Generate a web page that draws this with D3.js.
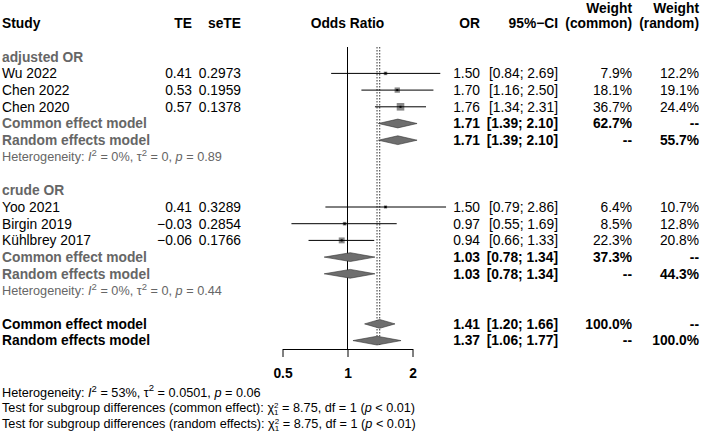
<!DOCTYPE html>
<html><head><meta charset="utf-8">
<script src="https://cdn.jsdelivr.net/npm/d3@7"></script>
<style>body{margin:0;background:#fff}svg{display:block}text{font-family:"Liberation Sans",Arial,Helvetica,sans-serif}</style>
</head><body><svg id="c" width="702" height="434"></svg>
<script>
// ---- data ----
const groups = ["adjusted OR", "crude OR"];
const studyNames = ["Wu 2022", "Chen 2022", "Chen 2020", "Yoo 2021", "Birgin 2019", "Kühlbrey 2017"];
const studyGroup = [0, 0, 0, 1, 1, 1];
const studyTE = ["0.41", "0.53", "0.57", "0.41", "\u22120.03", "\u22120.06"];
const studySeTE = ["0.2973", "0.1959", "0.1378", "0.3289", "0.2854", "0.1766"];
const studyOR = [1.50, 1.70, 1.76, 1.50, 0.97, 0.94];
const studyLower = [0.84, 1.16, 1.34, 0.79, 0.55, 0.66];
const studyUpper = [2.69, 2.50, 2.31, 2.86, 1.69, 1.33];
const studyWCommon = [7.9, 18.1, 36.7, 6.4, 8.5, 22.3];
const studyWRandom = [12.2, 19.1, 24.4, 10.7, 12.8, 20.8];

const subCommonOR = [1.71, 1.03], subCommonLo = [1.39, 0.78], subCommonHi = [2.10, 1.34];
const subRandomOR = [1.71, 1.03], subRandomLo = [1.39, 0.78], subRandomHi = [2.10, 1.34];
const subWCommon = ["62.7%", "37.3%"], subWRandom = ["55.7%", "44.3%"];
const subHet = [["0%", "0", "0.89"], ["0%", "0", "0.44"]];

const overallCommon = [1.41, 1.20, 1.66], overallRandom = [1.37, 1.06, 1.77];
const overallHet = ["53%", "0.0501", "0.06"];
const testQ = "8.75", testDf = "1", testP = "< 0.01";
const axisTicks = [0.5, 1, 2];

// ---- layout ----
const FS = 13.8, FSS = 12.7, FSUP = 9.5;
const svg = d3.select("#c");
const row = d3.scaleLinear().domain([0, 19]).range([23.3, 340.6]);
const x = d3.scaleLog().domain([0.5, 2]).range([282.5, 412.5]);
const colTE = 192, colSe = 241, colOR = 480, colCI = 558, colWC = 632, colWR = 699;
const GREY = "#666";
const f2 = d3.format(".2f"), f1 = d3.format(".1f");
const ci = (l, u) => "[" + f2(l) + "; " + f2(u) + "]";

function txt(xp, yp, s, o = {}) {
  return svg.append("text").attr("x", xp).attr("y", yp).attr("dy", "0.35em")
    .attr("text-anchor", o.anchor || "start")
    .attr("font-size", o.size || FS)
    .attr("font-weight", o.bold ? "bold" : "normal")
    .attr("fill", o.color || "#000").text(s);
}

// headers
txt(2, row(0), "Study", {bold: true});
txt(colTE, row(0), "TE", {bold: true, anchor: "end"});
txt(colSe, row(0), "seTE", {bold: true, anchor: "end"});
txt(x(1), row(0), "Odds Ratio", {bold: true, anchor: "middle"});
txt(colOR, row(0), "OR", {bold: true, anchor: "end"});
txt(colCI, row(0), "95%\u2212CI", {bold: true, anchor: "end"});
txt(colWC, row(0) - 15, "Weight", {bold: true, anchor: "end"});
txt(colWC, row(0), "(common)", {bold: true, anchor: "end"});
txt(colWR, row(0) - 15, "Weight", {bold: true, anchor: "end"});
txt(colWR, row(0), "(random)", {bold: true, anchor: "end"});

// reference lines
const g = svg.append("g");
g.append("line").attr("x1", x(1)).attr("x2", x(1)).attr("y1", 47).attr("y2", 349).attr("stroke", "#000");
g.append("line").attr("x1", x(overallCommon[0])).attr("x2", x(overallCommon[0])).attr("y1", 47).attr("y2", 345)
  .attr("stroke", "#000").attr("stroke-dasharray", "1.5,1.5").attr("stroke-width", 0.8);
g.append("line").attr("x1", x(overallRandom[0])).attr("x2", x(overallRandom[0])).attr("y1", 47).attr("y2", 345)
  .attr("stroke", "#000").attr("stroke-dasharray", "1.5,1.5").attr("stroke-width", 0.8);

function diamond(k, est, lo, hi) {
  const yc = row(k), h = 4.4;
  g.append("path").attr("d", `M${x(lo)},${yc}L${x(est)},${yc - h}L${x(hi)},${yc}L${x(est)},${yc + h}Z`)
    .attr("fill", "#6e6e6e").attr("stroke", "#333").attr("stroke-width", 0.6);
}

function hetText(k, vals, color) {
  const t = svg.append("text").attr("x", 2).attr("y", row(k)).attr("dy", "0.35em")
    .attr("font-size", FSS).attr("fill", color);
  t.append("tspan").text("Heterogeneity: ");
  t.append("tspan").attr("font-style", "italic").text("I");
  t.append("tspan").attr("font-size", FSUP).attr("dy", "-0.55em").text("2");
  t.append("tspan").attr("dy", "0.4em").text(" = " + vals[0] + ", \u03C4");
  t.append("tspan").attr("font-size", FSUP).attr("dy", "-0.55em").text("2");
  t.append("tspan").attr("dy", "0.4em").text(" = " + vals[1] + ", ");
  t.append("tspan").attr("font-style", "italic").text("p");
  t.append("tspan").text(" = " + vals[2]);
}

let k = 2;
groups.forEach((gname, gi) => {
  txt(2, row(k), gname, {bold: true, color: GREY});
  k++;
  studyNames.forEach((n, i) => {
    if (studyGroup[i] !== gi) return;
    const yc = row(k);
    txt(2, yc, n);
    txt(colTE, yc, studyTE[i], {anchor: "end"});
    txt(colSe, yc, studySeTE[i], {anchor: "end"});
    txt(colOR, yc, f2(studyOR[i]), {anchor: "end"});
    txt(colCI, yc, ci(studyLower[i], studyUpper[i]), {anchor: "end"});
    txt(colWC, yc, f1(studyWCommon[i]) + "%", {anchor: "end"});
    txt(colWR, yc, f1(studyWRandom[i]) + "%", {anchor: "end"});
    const s = 1.25 * Math.sqrt(studyWCommon[i]);
    g.append("rect").attr("x", x(studyOR[i]) - s / 2).attr("y", yc - s / 2).attr("width", s).attr("height", s)
      .attr("fill", "#888");
    g.append("line").attr("x1", x(studyLower[i])).attr("x2", x(studyUpper[i])).attr("y1", yc).attr("y2", yc)
      .attr("stroke", "#000");
    g.append("rect").attr("x", x(studyOR[i]) - 1).attr("y", yc - 1).attr("width", 2).attr("height", 2).attr("fill", "#000");
    k++;
  });
  txt(2, row(k), "Common effect model", {bold: true, color: GREY});
  txt(colOR, row(k), f2(subCommonOR[gi]), {bold: true, anchor: "end"});
  txt(colCI, row(k), ci(subCommonLo[gi], subCommonHi[gi]), {bold: true, anchor: "end"});
  txt(colWC, row(k), subWCommon[gi], {bold: true, anchor: "end"});
  txt(colWR, row(k), "--", {bold: true, anchor: "end"});
  diamond(k, subCommonOR[gi], subCommonLo[gi], subCommonHi[gi]);
  k++;
  txt(2, row(k), "Random effects model", {bold: true, color: GREY});
  txt(colOR, row(k), f2(subRandomOR[gi]), {bold: true, anchor: "end"});
  txt(colCI, row(k), ci(subRandomLo[gi], subRandomHi[gi]), {bold: true, anchor: "end"});
  txt(colWC, row(k), "--", {bold: true, anchor: "end"});
  txt(colWR, row(k), subWRandom[gi], {bold: true, anchor: "end"});
  diamond(k, subRandomOR[gi], subRandomLo[gi], subRandomHi[gi]);
  k++;
  hetText(k, subHet[gi], GREY);
  k += 2;
});

// overall
txt(2, row(18), "Common effect model", {bold: true});
txt(colOR, row(18), f2(overallCommon[0]), {bold: true, anchor: "end"});
txt(colCI, row(18), ci(overallCommon[1], overallCommon[2]), {bold: true, anchor: "end"});
txt(colWC, row(18), "100.0%", {bold: true, anchor: "end"});
txt(colWR, row(18), "--", {bold: true, anchor: "end"});
diamond(18, overallCommon[0], overallCommon[1], overallCommon[2]);
txt(2, row(19), "Random effects model", {bold: true});
txt(colOR, row(19), f2(overallRandom[0]), {bold: true, anchor: "end"});
txt(colCI, row(19), ci(overallRandom[1], overallRandom[2]), {bold: true, anchor: "end"});
txt(colWC, row(19), "--", {bold: true, anchor: "end"});
txt(colWR, row(19), "100.0%", {bold: true, anchor: "end"});
diamond(19, overallRandom[0], overallRandom[1], overallRandom[2]);

// axis
const ax = svg.append("g").attr("transform", "translate(0,349)")
  .call(d3.axisBottom(x).tickValues(axisTicks).tickFormat(d => String(d)).tickSize(8).tickPadding(11).tickSizeOuter(0));
ax.select(".domain").attr("stroke", "#000");
ax.selectAll(".tick line").attr("stroke", "#000");
ax.selectAll(".tick text").attr("font-size", FS).attr("font-weight", "bold")
  .attr("font-family", "Liberation Sans, Arial, sans-serif").attr("fill", "#000");

// bottom text
hetText(19 + 3.1, overallHet, "#000");
function testText(yc, label) {
  const t = svg.append("text").attr("x", 2).attr("y", yc).attr("dy", "0.35em").attr("font-size", FSS);
  t.append("tspan").text("Test for subgroup differences (" + label + "): \u03C7");
  t.append("tspan").attr("font-size", 8).attr("dy", "-0.55em").text("2");
  t.append("tspan").attr("font-size", 8).attr("dx", "-4.4").attr("dy", "0.9em").text(testDf);
  t.append("tspan").attr("dy", "-0.28em").text(" = " + testQ + ", df = " + testDf + " (");
  t.append("tspan").attr("font-style", "italic").text("p");
  t.append("tspan").text(" " + testP + ")");
}
testText(408, "common effect");
testText(424, "random effects");
</script></body></html>
